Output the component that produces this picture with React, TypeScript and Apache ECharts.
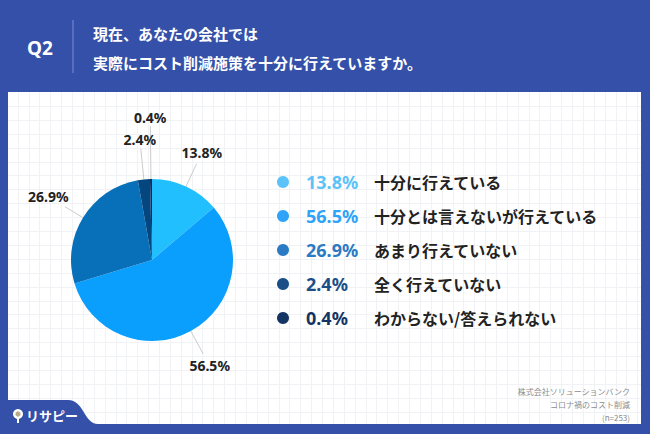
import React, { useEffect, useRef } from 'react';
import * as echarts from 'echarts';

const categories = ['十分に行えている', '十分とは言えないが行えている', 'あまり行えていない', '全く行えていない', 'わからない/答えられない'];
const values = [13.8, 56.5, 26.9, 2.4, 0.4];
const sliceColors = ['#22bfff', '#0a9ffc', '#0870b8', '#04467f', '#0b2e5e'];
const legendColors = ['#5cc3f9', '#2ea3f8', '#2b7ac4', '#1b4e87', '#143563'];
const labelLineLengths = [25, 26, 21, 31, 53];
const questionNo = 'Q2';
const titleLines = ['現在、あなたの会社では', '実際にコスト削減施策を十分に行えていますか。'];
const sourceLines = ['株式会社ソリューションバンク', 'コロナ禍のコスト削減', '(n=253)'];
const brandName = 'リサピー';

const BG = '#3550a9';
const JP = '"Noto Sans CJK JP", "Noto Sans", sans-serif';

let registered = false;
function ensureShapes() {
  if (registered) return;
  registered = true;
  echarts.graphic.registerShape(
    'logoTab',
    echarts.graphic.extendPath('M0 0 H68 C84 0 84 24 98 24 V34 H0 Z', {}) as any
  );
}

export default function App() {
  const ref = useRef<HTMLDivElement>(null);
  useEffect(() => {
    if (!ref.current) return;
    ensureShapes();
    const chart = echarts.init(ref.current, undefined, { renderer: 'svg' });

    const PX0 = 8, PY0 = 92, PX1 = 641, PY1 = 424;
    const gridEls: any[] = [];
    for (let x = 17.7; x < PX1; x += 10.87) {
      gridEls.push({ type: 'line', z: 1, shape: { x1: Math.round(x) + 0.5, y1: PY0, x2: Math.round(x) + 0.5, y2: PY1 }, style: { stroke: '#f1f2f5', lineWidth: 1 } });
    }
    for (let y = 105.9; y < PY1; y += 13.9) {
      gridEls.push({ type: 'line', z: 1, shape: { x1: PX0, y1: Math.round(y) + 0.5, x2: PX1, y2: Math.round(y) + 0.5 }, style: { stroke: '#f1f2f5', lineWidth: 1 } });
    }

    const rich: any = {
      t: { fontFamily: JP, fontWeight: 'bold', fontSize: 16, color: '#222', lineHeight: 20 },
    };
    legendColors.forEach((c, i) => {
      rich['p' + i] = { fontFamily: '"Noto Sans", sans-serif', fontWeight: 'bold', fontSize: 18, color: c, width: 68, lineHeight: 20 };
    });

    const option: any = {
      animation: false,
      backgroundColor: BG,
      textStyle: { fontFamily: JP },
      graphic: [
        { type: 'rect', z: 0, shape: { x: PX0, y: PY0, width: PX1 - PX0, height: PY1 - PY0 }, style: { fill: '#ffffff' } },
        ...gridEls,
        { type: 'line', z: 3, shape: { x1: 73, y1: 20, x2: 73, y2: 73 }, style: { stroke: '#7d8fd0', lineWidth: 1 } },
        { type: 'text', z: 3, x: 27, y: 48, style: { text: questionNo, fill: '#fff', font: 'bold 19px "Noto Sans", sans-serif', verticalAlign: 'middle' } },
        ...titleLines.map((t, i) => ({
          type: 'text', z: 3, x: 93, y: 33 + i * 29,
          style: { text: t, fill: '#fff', font: `bold 15px ${JP}`, verticalAlign: 'middle' },
        })),
        ...sourceLines.map((t, i) => ({
          type: 'text', z: 3, x: 630, y: 391 + i * 13,
          style: { text: t, fill: '#8c8c8c', font: `8px ${JP}`, align: 'right', verticalAlign: 'middle' },
        })),
        { type: 'logoTab', z: 4, x: 0, y: 400, style: { fill: BG } },
        { type: 'circle', z: 5, shape: { cx: 18, cy: 414, r: 5 }, style: { fill: '#fff' } },
        { type: 'circle', z: 6, shape: { cx: 18, cy: 414, r: 2.6 }, style: { fill: '#b9a98a' } },
        { type: 'line', z: 5, shape: { x1: 18, y1: 418, x2: 18, y2: 423 }, style: { stroke: '#fff', lineWidth: 2 } },
        { type: 'text', z: 5, x: 26, y: 415, style: { text: brandName, fill: '#fff', font: `bold 13px ${JP}`, verticalAlign: 'middle' } },
      ],
      legend: {
        orient: 'vertical',
        left: 272,
        top: 168,
        itemWidth: 36,
        itemHeight: 12,
        itemGap: 16,
        icon: 'circle',
        selectedMode: false,
        data: categories.map((c, i) => ({ name: c, icon: 'circle', itemStyle: { color: legendColors[i] } })),
        formatter: (name: string) => {
          const i = categories.indexOf(name);
          return `{p${i}|${values[i].toFixed(1)}%}{t|${name}}`;
        },
        textStyle: { rich },
      },
      series: [
        {
          type: 'pie',
          center: [152, 260],
          radius: 81,
          startAngle: 90,
          clockwise: true,
          avoidLabelOverlap: false,
          z: 10,
          itemStyle: { borderWidth: 0 },
          emphasis: { disabled: true },
          label: {
            show: true,
            formatter: (p: any) => `${Number(p.value).toFixed(1)}%`,
            fontFamily: '"Noto Sans", sans-serif',
            fontWeight: 'bold',
            fontSize: 14,
            lineHeight: 14,
            color: '#222',
          },
          labelLine: { show: true, length: 24, length2: 0, lineStyle: { color: '#cccccc', width: 1 } },
          labelLayout: (params: any) => {
            const pts = params.labelLinePoints;
            if (!pts) return {};
            const a = pts[0], b = pts[1];
            let dx = b[0] - a[0], dy = b[1] - a[1];
            const len = Math.hypot(dx, dy) || 1;
            dx /= len; dy /= len;
            const w = params.labelRect.width / 2;
            const h = params.labelRect.height / 2;
            const off = Math.hypot(w * dx, h * dy) + 2;
            return {
              x: b[0] + dx * off,
              y: b[1] + dy * off,
              align: 'center',
              verticalAlign: 'middle',
              labelLinePoints: pts,
            };
          },
          data: categories.map((c, i) => ({
            name: c,
            value: values[i],
            itemStyle: { color: sliceColors[i] },
            labelLine: { length: labelLineLengths[i], length2: 0 },
          })),
        },
      ],
    };
    chart.setOption(option);
    return () => chart.dispose();
  }, []);
  return <div ref={ref} style={{ position: 'fixed', left: 0, top: 0, width: 650, height: 434 }} />;
}
